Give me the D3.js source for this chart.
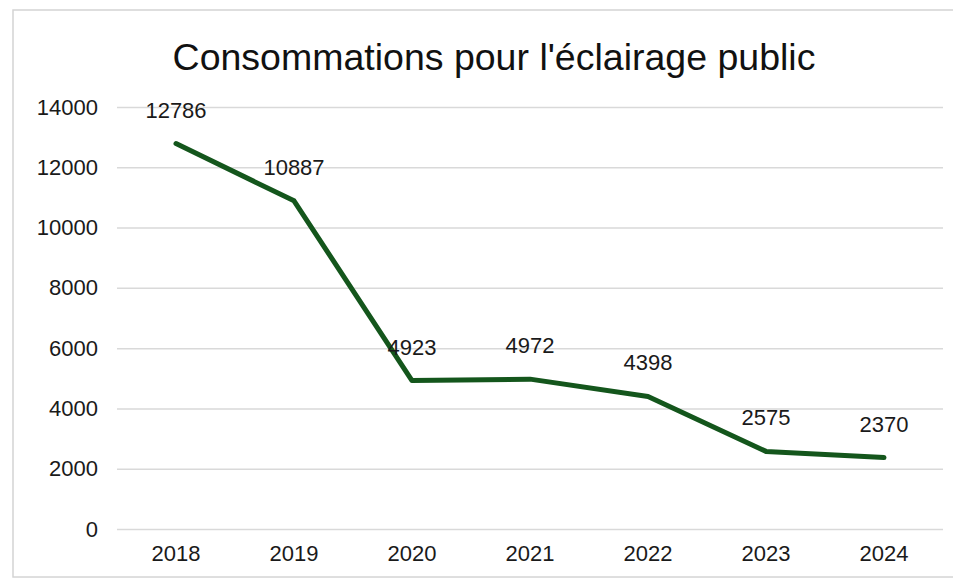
<!DOCTYPE html>
<html>
<head>
<meta charset="utf-8">
<script src="https://cdn.jsdelivr.net/npm/d3@7"></script>
<style>
  body { margin: 0; background: #fff; }
  text { font-family: "Liberation Sans", Arial, sans-serif; }
</style>
</head>
<body>
<div id="my_dataviz"></div>
<script>
var years = ["2018", "2019", "2020", "2021", "2022", "2023", "2024"];
var values = [12786, 10887, 4923, 4972, 4398, 2575, 2370];
var yTicks = [0, 2000, 4000, 6000, 8000, 10000, 12000, 14000];

var vizx = 953, vizy = 586;
var margin = {top: 107, right: 10, bottom: 57, left: 117},
  width = 943 - margin.left,
  height = 529 - margin.top;

var svg = d3.select("#my_dataviz")
  .append("svg")
    .attr("width", vizx)
    .attr("height", vizy);

// outer frame of the chart
svg.append("rect")
  .attr("x", 13).attr("y", 10)
  .attr("width", 960).attr("height", 567)
  .style("fill", "none")
  .style("stroke", "#d4d4d4")
  .style("stroke-width", 1.5);

var g = svg.append("g")
  .attr("transform", "translate(" + margin.left + "," + margin.top + ")");

var x = d3.scaleBand()
  .range([0, width])
  .domain(years);

var y = d3.scaleLinear()
  .range([height, 0])
  .domain([0, 14000]);

// gridlines
g.append("g")
  .call(d3.axisLeft(y).tickValues(yTicks).tickSize(-width).tickFormat(""))
  .call(g => g.select(".domain").remove())
  .selectAll("line")
    .style("stroke", "#d9d9d9")
    .style("stroke-width", 1.5);

// y labels
g.append("g")
  .call(d3.axisLeft(y).tickValues(yTicks).tickSize(0).tickPadding(19).tickFormat(d3.format("d")))
  .call(g => g.select(".domain").remove())
  .selectAll("text")
    .style("font-size", "22px")
    .style("fill", "#1a1a1a");

// x labels
g.append("g")
  .attr("transform", "translate(0," + height + ")")
  .call(d3.axisBottom(x).tickSize(0).tickPadding(16))
  .call(g => g.select(".domain").remove())
  .selectAll("text")
    .style("font-size", "22px")
    .style("fill", "#1a1a1a");

var data = years.map(function(d, i) { return {year: d, value: values[i]}; });

var line = d3.line()
  .x(function(d) { return x(d.year) + x.bandwidth() / 2; })
  .y(function(d) { return y(d.value); });

g.append("path")
  .datum(data)
  .attr("d", line)
  .style("fill", "none")
  .style("stroke", "#14561c")
  .style("stroke-width", 5)
  .style("stroke-linejoin", "round")
  .style("stroke-linecap", "round");

// data labels
g.selectAll(".lbl")
  .data(data)
  .enter()
  .append("text")
    .attr("class", "lbl")
    .attr("x", function(d) { return x(d.year) + x.bandwidth() / 2; })
    .attr("y", function(d) { return y(d.value) - 26; })
    .attr("text-anchor", "middle")
    .style("font-size", "22px")
    .style("fill", "#1a1a1a")
    .text(function(d) { return d.value; });

// title
svg.append("text")
  .attr("x", 494)
  .attr("y", 70)
  .attr("text-anchor", "middle")
  .style("font-size", "37.5px")
  .style("fill", "#111")
  .text("Consommations pour l'éclairage public");
</script>
</body>
</html>
